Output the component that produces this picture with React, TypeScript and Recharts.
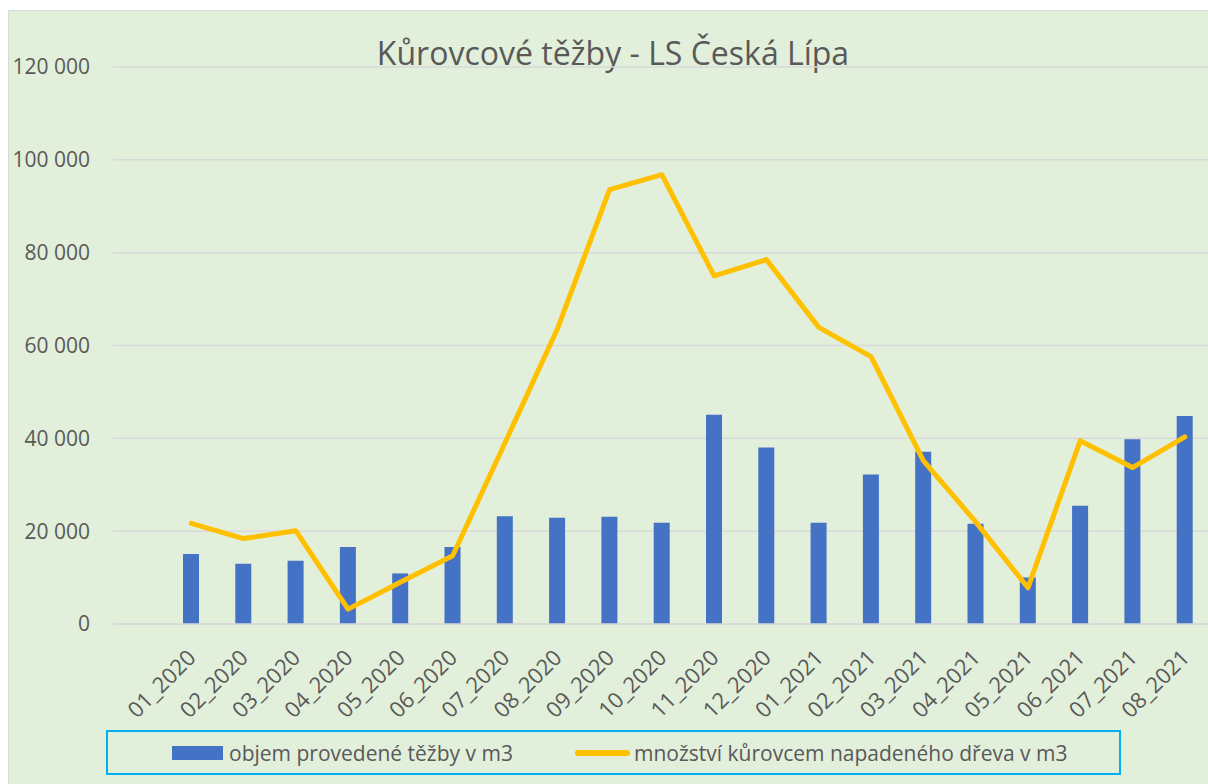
import {
  ComposedChart,
  Bar,
  Line,
  XAxis,
  YAxis,
  CartesianGrid,
  Legend,
} from "recharts";

const months = [
  "01_2020", "02_2020", "03_2020", "04_2020", "05_2020", "06_2020",
  "07_2020", "08_2020", "09_2020", "10_2020", "11_2020", "12_2020",
  "01_2021", "02_2021", "03_2021", "04_2021", "05_2021", "06_2021",
  "07_2021", "08_2021",
];

const harvested = [
  15100, 13000, 13600, 16600, 10900, 16600, 23200, 22900, 23100, 21800,
  45100, 38000, 21800, 32200, 37100, 21600, 10000, 25500, 39800, 44800,
];

const infested = [
  21700, 18400, 20100, 3200, 9000, 14700, 39000, 63500, 93600, 96800,
  75000, 78500, 63900, 57600, 35200, 22000, 7800, 39500, 33700, 40300,
];

const yTicks = [0, 20000, 40000, 60000, 80000, 100000, 120000];

const title = "Kůrovcové těžby - LS Česká Lípa";
const barName = "objem provedené těžby v m3";
const lineName = "množství kůrovcem napadeného dřeva v m3";

const data = months.map((m, i) => ({
  month: m,
  harvested: harvested[i],
  infested: infested[i],
}));

const FONT = "'Open Sans', sans-serif";
const TEXT = "#595959";

const formatThousands = (v: number) =>
  String(v).replace(/\B(?=(\d{3})+(?!\d))/g, " ");

const XTick = ({ x, y, payload }: any) => (
  <g transform={`translate(${x + 6},${y + 35})`}>
    <text
      x={0}
      y={0}
      textAnchor="end"
      fill={TEXT}
      fontSize={22}
      fontFamily={FONT}
      transform="rotate(-45)"
    >
      {payload.value}
    </text>
  </g>
);

const LegendBox = ({ payload }: any) => {
  const items = payload || [];
  const bar = items.find((p: any) => p.dataKey === "harvested");
  const line = items.find((p: any) => p.dataKey === "infested");
  return (
    <div
      style={{
        position: "relative",
        boxSizing: "border-box",
        width: 1015,
        height: 45,
        border: "2px solid #00B0F0",
        fontFamily: FONT,
        fontSize: 21,
        color: TEXT,
      }}
    >
      {bar && (
        <div
          style={{
            position: "absolute",
            left: 64,
            top: 0,
            height: 41,
            display: "flex",
            alignItems: "center",
            whiteSpace: "nowrap",
          }}
        >
          <span
            style={{
              display: "inline-block",
              width: 51,
              height: 14,
              background: bar.color,
              marginRight: 6,
            }}
          />
          {bar.value}
        </div>
      )}
      {line && (
        <div
          style={{
            position: "absolute",
            left: 467,
            top: 0,
            height: 41,
            display: "flex",
            alignItems: "center",
            whiteSpace: "nowrap",
          }}
        >
          <span
            style={{
              display: "inline-block",
              width: 55,
              height: 6,
              borderRadius: 3,
              background: line.color,
              marginRight: 4,
            }}
          />
          {line.value}
        </div>
      )}
    </div>
  );
};

export default function App() {
  return (
    <div
      style={{
        position: "absolute",
        left: 8,
        top: 10,
        width: 1200,
        height: 774,
        boxSizing: "border-box",
        borderLeft: "1px solid #D9D9D9",
        borderTop: "1px solid #D9D9D9",
        background: "#E2EFDA",
        overflow: "hidden",
      }}
    >
      <div
        style={{
          position: "absolute",
          left: 0,
          top: 26,
          width: 1208,
          textAlign: "center",
          fontFamily: FONT,
          fontSize: 32,
          lineHeight: "31px",
          color: TEXT,
          whiteSpace: "nowrap",
        }}
      >
        {title}
      </div>
      <ComposedChart
        width={1215}
        height={800}
        data={data}
        margin={{ top: 56, right: 13, left: 0, bottom: 52 }}
      >
        <CartesianGrid vertical={false} stroke="#D9D9D9" strokeWidth={1.5} />
        <XAxis
          dataKey="month"
          interval={0}
          height={90}
          padding={{ left: 52, right: 0 }}
          tickLine={false}
          tickSize={0}
          tickMargin={0}
          axisLine={{ stroke: "#D9D9D9", strokeWidth: 1.5 }}
          tick={<XTick />}
        />
        <YAxis
          width={104}
          domain={[0, 120000]}
          ticks={yTicks}
          interval={0}
          axisLine={false}
          tickLine={false}
          tickSize={0}
          tickMargin={23}
          tickFormatter={formatThousands}
          tick={{ fill: TEXT, fontSize: 21, fontFamily: FONT }}
        />
        <Legend
          verticalAlign="bottom"
          height={46}
          content={<LegendBox />}
          wrapperStyle={{ left: 97, top: 719, width: 1015, height: 45 }}
        />
        <Bar
          dataKey="harvested"
          name={barName}
          fill="#4472C4"
          barSize={16}
          isAnimationActive={false}
        />
        <Line
          dataKey="infested"
          name={lineName}
          stroke="#FFC000"
          strokeWidth={5}
          strokeLinejoin="round"
          strokeLinecap="round"
          dot={false}
          activeDot={false}
          legendType="line"
          isAnimationActive={false}
        />
      </ComposedChart>
    </div>
  );
}
